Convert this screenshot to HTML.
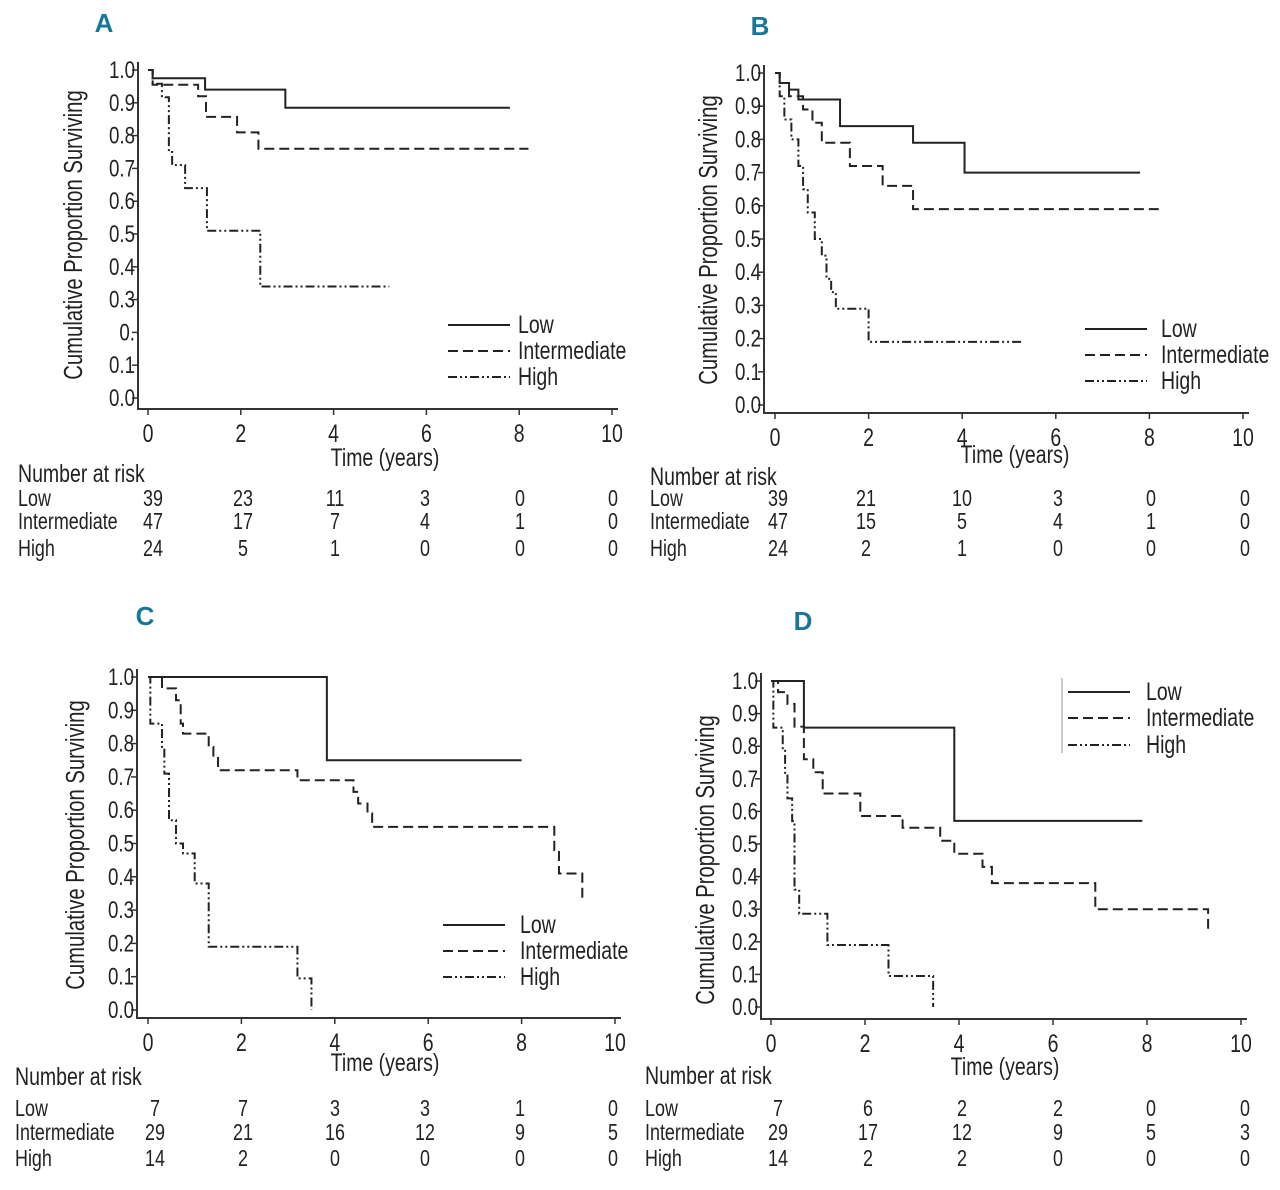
<!DOCTYPE html>
<html><head><meta charset="utf-8"><title>Kaplan-Meier survival curves by risk group, panels A-D</title>
<style>
html,body{margin:0;padding:0;background:#fff;}
svg{display:block;}
text{font-family:"Liberation Sans",sans-serif;fill:#222;}
</style></head>
<body>
<svg id="fig" width="1280" height="1190" viewBox="0 0 1280 1190" xmlns="http://www.w3.org/2000/svg"></svg>
<script>
// ---- Data (time in years, survival proportion) ----
const groups = ["Low","Intermediate","High"];
const xTicks = [0,2,4,6,8,10];
const yTicks = [0.0,0.1,0.2,0.3,0.4,0.5,0.6,0.7,0.8,0.9,1.0];
const yTickLabelsA = ["0.0","0.1","0.","0.3","0.4","0.5","0.6","0.7","0.8","0.9","1.0"];
const yTickLabels = ["0.0","0.1","0.2","0.3","0.4","0.5","0.6","0.7","0.8","0.9","1.0"];

const aLowT = [0,0.1,1.23,2.96,7.8];
const aLowS = [1.0,0.975,0.94,0.885,0.885];
const aIntT = [0,0.1,1.08,1.25,1.92,2.38,8.2];
const aIntS = [1.0,0.955,0.92,0.857,0.81,0.76,0.76];
const aHighT = [0,0.1,0.3,0.45,0.52,0.8,1.27,2.42,5.2];
const aHighS = [1.0,0.958,0.917,0.75,0.71,0.64,0.51,0.34,0.34];

const bLowT = [0,0.1,0.3,0.5,1.39,2.95,4.05,7.8];
const bLowS = [1.0,0.97,0.95,0.92,0.84,0.79,0.70,0.70];
const bIntT = [0,0.1,0.3,0.6,0.8,1.0,1.6,2.3,2.95,8.2];
const bIntS = [1.0,0.97,0.93,0.89,0.85,0.79,0.72,0.66,0.59,0.59];
const bHighT = [0,0.1,0.2,0.35,0.5,0.6,0.7,0.85,1.0,1.1,1.2,1.3,2.0,5.3];
const bHighS = [1.0,0.93,0.86,0.8,0.72,0.65,0.58,0.5,0.45,0.38,0.34,0.29,0.19,0.19];

const cLowT = [0,3.83,8.0];
const cLowS = [1.0,0.75,0.75];
const cIntT = [0,0.3,0.6,0.7,0.75,1.3,1.4,1.5,3.2,4.4,4.5,4.7,4.8,8.7,8.8,9.3,9.4];
const cIntS = [1.0,0.966,0.93,0.86,0.83,0.79,0.76,0.72,0.69,0.655,0.62,0.59,0.55,0.48,0.41,0.34,0.34];
const cHighT = [0,0.05,0.3,0.35,0.45,0.6,0.75,1.0,1.3,3.2,3.5,3.5];
const cHighS = [1.0,0.86,0.79,0.71,0.57,0.5,0.47,0.38,0.19,0.095,0.0,0.0];

const dLowT = [0,0.7,3.9,7.9];
const dLowS = [1.0,0.857,0.571,0.571];
const dIntT = [0,0.15,0.35,0.5,0.7,0.9,1.1,1.9,2.8,3.6,3.9,4.5,4.7,6.9,9.3,9.3];
const dIntS = [1.0,0.966,0.93,0.86,0.76,0.72,0.655,0.586,0.55,0.51,0.47,0.43,0.38,0.30,0.24,0.24];
const dHighT = [0,0.05,0.25,0.3,0.35,0.45,0.5,0.6,1.2,2.5,3.45,3.45];
const dHighS = [1.0,0.857,0.786,0.71,0.64,0.57,0.36,0.286,0.19,0.095,0.0,0.0];

const riskA_Low=[39,23,11,3,0,0], riskA_Int=[47,17,7,4,1,0], riskA_High=[24,5,1,0,0,0];
const riskB_Low=[39,21,10,3,0,0], riskB_Int=[47,15,5,4,1,0], riskB_High=[24,2,1,0,0,0];
const riskC_Low=[7,7,3,3,1,0], riskC_Int=[29,21,16,12,9,5], riskC_High=[14,2,0,0,0,0];
const riskD_Low=[7,6,2,2,0,0], riskD_Int=[29,17,12,9,5,3], riskD_High=[14,2,2,0,0,0];

const NS="http://www.w3.org/2000/svg";
const svg=document.getElementById('fig');
function mk(tag,attrs,parent){const e=document.createElementNS(NS,tag);for(const k in attrs)e.setAttribute(k,attrs[k]);(parent||svg).appendChild(e);return e;}
function txt(s,x,y,size,anchor,parent,sx){
  const t=mk('text',{transform:`translate(${x},${y}) scale(${sx||0.78},1)`,'font-size':size,'text-anchor':anchor||'start'},parent);
  t.textContent=s;return t;
}
const dashes=["none","10,5","9,3,2,3,2,3"];

function panel(p){
  const g=mk('g',{});
  
  
  const X=t=>p.x0+(p.x10-p.x0)*t/10;
  const Y=s=>p.y0+(p.y1-p.y0)*s;
  const L=mk('text',{x:p.lx,y:p.ly,'font-size':26,'font-weight':'bold','text-anchor':'middle',style:'fill:#17769a'},g);
  L.textContent=p.id;
  
  
  const ax=mk('path',{d:`M${p.ax},${p.y1-8} L${p.ax},${p.axy} L${p.x10+6},${p.axy}`,stroke:'#333','stroke-width':2,fill:'none'},g);
  
  
  yTicks.forEach((v,i)=>{
    mk('line',{x1:p.ax-6,x2:p.ax,y1:Y(v),y2:Y(v),stroke:'#333','stroke-width':1.5},g);
    const t=txt(p.ylabels[i],p.ax-3,Y(v)+8,24,'end',g);
    
    
  });
  xTicks.forEach(v=>{
    mk('line',{x1:X(v),x2:X(v),y1:p.axy,y2:p.axy+6,stroke:'#333','stroke-width':1.5},g);
    const t=txt(String(v),X(v),p.axy+33,25,'middle',g);
    
    
  });
  const xt=txt('Time (years)',p.xtx,p.xty,25,'middle',g);
  
  
  const yt=mk('text',{transform:`translate(${p.ytx},${p.yty}) rotate(-90) scale(0.78,1)`,'font-size':26,'text-anchor':'middle'},g);
  yt.textContent='Cumulative Proportion Surviving';
  
  
  p.series.forEach((s,i)=>{
    const T=s[0],S=s[1];
    let d=`M${X(T[0])},${Y(S[0])}`;
    for(let k=1;k<T.length;k++){d+=` L${X(T[k])},${Y(S[k-1])} L${X(T[k])},${Y(S[k])}`;}
    const path=mk('path',{d:d,fill:'none',stroke:'#222','stroke-width':2,'stroke-dasharray':dashes[i]},g);
    
    
  });
  if(p.legBar) mk('line',{x1:p.legBar,x2:p.legBar,y1:p.legY[0]-14,y2:p.legY[2]+8,stroke:'#999','stroke-width':1},g);
  groups.forEach((gr,i)=>{
    const ln=mk('line',{x1:p.legX,x2:p.legX+62,y1:p.legY[i],y2:p.legY[i],stroke:'#222','stroke-width':2,'stroke-dasharray':dashes[i]},g);
    
    
    const t=txt(gr,p.legTX,p.legY[i]+8,25,'start',g);
    
    
  });
  const h=txt('Number at risk',p.rx,p.rhy,25,'start',g);
  
  
  p.risk.forEach((row,i)=>{
    const lab=txt(groups[i],p.rx,p.ry[i],23,'start',g);
    
    
    row.forEach((v,j)=>{
      const c=txt(String(v),p.rcols[j],p.ry[i],23,'middle',g);
      
      
    });
  });
}

panel({id:'A',lx:104,ly:32,x0:148,x10:612,y0:398,y1:70,ax:138,axy:409,ylabels:yTickLabelsA,
  xtx:385,xty:466,ytx:82,yty:235,
  series:[[aLowT,aLowS],[aIntT,aIntS],[aHighT,aHighS]],
  legX:448,legTX:518,legY:[325,351,377],
  rx:18,rhy:482,ry:[506,529,556],rcols:[153,243,335,425,520,613],
  risk:[riskA_Low,riskA_Int,riskA_High]});
panel({id:'B',lx:760,ly:35,x0:775,x10:1243,y0:405,y1:73,ax:764,axy:413,ylabels:yTickLabels,
  xtx:1015,xty:463,ytx:717,yty:240,
  series:[[bLowT,bLowS],[bIntT,bIntS],[bHighT,bHighS]],
  legX:1085,legTX:1161,legY:[329,355,381],
  rx:650,rhy:485,ry:[506,529,556],rcols:[778,866,962,1058,1151,1245],
  risk:[riskB_Low,riskB_Int,riskB_High]});
panel({id:'C',lx:145,ly:625,x0:148,x10:615,y0:1010,y1:677,ax:137,axy:1018,ylabels:yTickLabels,
  xtx:385,xty:1071,ytx:84,yty:845,
  series:[[cLowT,cLowS],[cIntT,cIntS],[cHighT,cHighS]],
  legX:443,legTX:520,legY:[925,951,977],
  rx:15,rhy:1085,ry:[1116,1140,1166],rcols:[155,243,335,425,520,613],
  risk:[riskC_Low,riskC_Int,riskC_High]});
panel({id:'D',lx:803,ly:630,x0:771,x10:1241,y0:1007,y1:681,ax:761,axy:1019,ylabels:yTickLabels,
  xtx:1005,xty:1075,ytx:714,yty:860,
  series:[[dLowT,dLowS],[dIntT,dIntS],[dHighT,dHighS]],
  legBar:1062,legX:1068,legTX:1146,legY:[692,718,745],
  rx:645,rhy:1084,ry:[1116,1140,1166],rcols:[778,868,962,1058,1151,1245],
  risk:[riskD_Low,riskD_Int,riskD_High]});
</script>
</body></html>
